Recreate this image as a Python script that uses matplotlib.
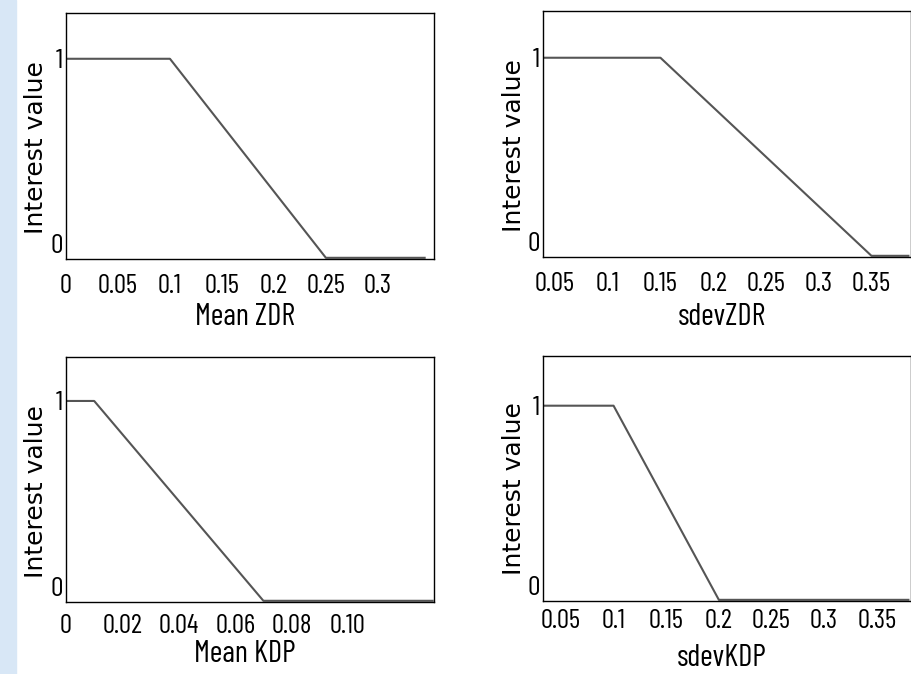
import matplotlib.pyplot as plt
from matplotlib import font_manager as fm
from matplotlib.patches import Rectangle

# membership (interest) functions
zdr_mean_x = [0.0, 0.1, 0.25, 0.345]
zdr_mean_y = [1, 1, 0, 0]
zdr_sdev_x = [0.0, 0.15, 0.35, 0.385]
zdr_sdev_y = [1, 1, 0, 0]
kdp_mean_x = [0.0, 0.01, 0.07, 0.13]
kdp_mean_y = [1, 1, 0, 0]
kdp_sdev_x = [0.0, 0.1, 0.2, 0.38]
kdp_sdev_y = [1, 1, 0, 0]

xlabels = ["Mean ZDR", "sdevZDR", "Mean KDP", "sdevKDP"]
xticks = [
    [0, 0.05, 0.1, 0.15, 0.2, 0.25, 0.3],
    [0.05, 0.1, 0.15, 0.2, 0.25, 0.3, 0.35],
    [0, 0.02, 0.04, 0.06, 0.08, 0.10],
    [0.05, 0.1, 0.15, 0.2, 0.25, 0.3, 0.35],
]
xticklabels = [
    ["0", "0.05", "0.1", "0.15", "0.2", "0.25", "0.3"],
    ["0.05", "0.1", "0.15", "0.2", "0.25", "0.3", "0.35"],
    ["0", "0.02", "0.04", "0.06", "0.08", "0.10"],
    ["0.05", "0.1", "0.15", "0.2", "0.25", "0.3", "0.35"],
]
xlims = [(0, 0.354), (0.0387, 0.387), (0, 0.1305), (0.033, 0.382)]
ytops = [1.23, 1.236, 1.22, 1.256]

# tall narrow sans (the slide is stretched vertically) if one is there
have = {f.name for f in fm.fontManager.ttflist}
narrow = "Liberation Sans"
for cand in ["Barlow Condensed", "Liberation Sans Narrow", "PT Sans Narrow",
             "Archivo Narrow", "Roboto Condensed"]:
    if cand in have:
        narrow = cand
        break

fig = plt.figure(figsize=(9.12, 6.74), dpi=100)
fig.patches.append(Rectangle((0, 0), 16 / 912, 1, transform=fig.transFigure,
                             color="#d8e7f6", zorder=0))

# axes boxes in pixels: left, top, right, bottom
boxes = [(66, 13, 434, 259), (543, 11, 910.5, 257),
         (66, 357, 434, 602), (543, 356, 910.5, 601)]
label_off = [-0.236, -0.244, -0.212, -0.232]
tick_pad = [11, 11, 8.5, 6]
ylab_pos = [(-0.0815, 0.453), (-0.080, 0.451), (-0.0815, 0.451), (-0.080, 0.457)]

data = [(zdr_mean_x, zdr_mean_y), (zdr_sdev_x, zdr_sdev_y),
        (kdp_mean_x, kdp_mean_y), (kdp_sdev_x, kdp_sdev_y)]

for i, (l, t, r, b) in enumerate(boxes):
    ax = fig.add_axes([l / 912, 1 - b / 674, (r - l) / 912, (b - t) / 674])
    x, y = data[i]
    ax.plot(x, y, color="#555555", lw=1.5)
    ax.set_xlim(*xlims[i])
    ax.set_ylim(-0.006, ytops[i])
    ax.set_xticks(xticks[i])
    ax.set_xticklabels(xticklabels[i], family=narrow, fontsize=19.5)
    ax.set_yticks([0, 1])
    ax.set_yticklabels(["0", "1"], family=narrow, fontsize=20)
    ax.get_yticklabels()[0].set_va("bottom")
    ax.tick_params(length=0)
    ax.tick_params(axis="x", pad=tick_pad[i])
    ax.tick_params(axis="y", pad=2)
    for s in ax.spines.values():
        s.set_linewidth(1.0)
    ax.set_xlabel(xlabels[i], family=narrow, fontsize=22)
    ax.xaxis.set_label_coords(0.487, label_off[i])
    ax.xaxis.label.set_va("center")
    ax.set_ylabel("Interest value", family="DejaVu Sans", fontsize=18)
    ax.yaxis.set_label_coords(*ylab_pos[i])
    ax.yaxis.label.set_va("center")

fig.savefig("out.png", dpi=100)
